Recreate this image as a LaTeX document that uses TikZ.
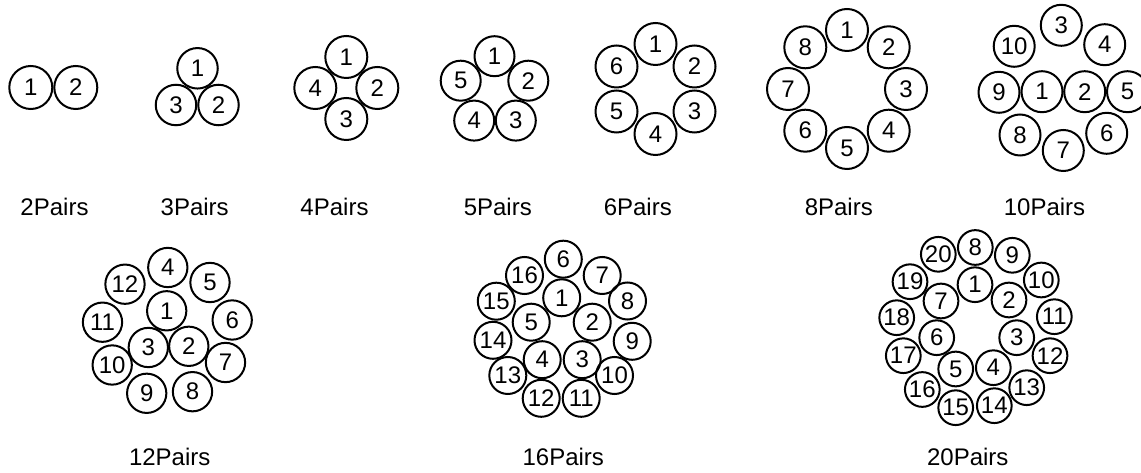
\documentclass[tikz,border=0pt]{standalone}
\usepackage{fontspec}
\setmainfont{Liberation Sans}
\tikzset{
  pr/.style={circle,draw,line width=1.5pt,inner sep=0pt,minimum size=#1*0.75pt,
    font=\fontsize{18pt}{20pt}\selectfont},
  lab/.style={anchor=base,inner sep=0pt,font=\fontsize{18pt}{20pt}\selectfont}
}
\begin{document}
\begin{tikzpicture}[x=0.75pt,y=-0.75pt]
\useasboundingbox (0,0) rectangle (1141,473);
\clip (0,0) rectangle (1141,473);
% 2 pairs
\node[pr=43] (a1) at (30.8,87.5) {1};
\node[pr=43] (a2) at (75.8,87.5) {2};
% 3 pairs
\node[pr=40.5] (b1) at (197.5,68.3) {1};
\node[pr=40.5] (b2) at (218.5,105) {2};
\node[pr=40.5] (b3) at (176,105) {3};
% 4 pairs
\node[pr=42] (c1) at (346.3,57) {1};
\node[pr=42] (c2) at (377.3,88) {2};
\node[pr=42] (c3) at (346.3,119) {3};
\node[pr=42] (c4) at (315.3,88) {4};
% 5 pairs
\node[pr=40] (d1) at (494.5,56.2) {1};
\node[pr=40] (d2) at (528.3,80.7) {2};
\node[pr=40] (d3) at (515.8,120.6) {3};
\node[pr=40] (d4) at (474.2,120.6) {4};
\node[pr=40] (d5) at (460.7,80.7) {5};
% 6 pairs
\node[pr=42] (e1) at (655.5,44) {1};
\node[pr=42] (e2) at (694.5,66.5) {2};
\node[pr=42] (e3) at (694.5,111.5) {3};
\node[pr=42] (e4) at (655.5,134) {4};
\node[pr=42] (e5) at (616.5,111.5) {5};
\node[pr=42] (e6) at (616.5,66.5) {6};
% 8 pairs
\node[pr=42] (f1) at (847,30) {1};
\node[pr=42] (f2) at (888.7,47.3) {2};
\node[pr=42] (f3) at (906,89) {3};
\node[pr=42] (f4) at (888.7,130.7) {4};
\node[pr=42] (f5) at (847,148) {5};
\node[pr=42] (f6) at (805.3,130.7) {6};
\node[pr=42] (f7) at (788,89) {7};
\node[pr=42] (f8) at (805.3,47.3) {8};
% 10 pairs
\node[pr=41] (g1) at (1042,91.7) {1};
\node[pr=41] (g2) at (1084.7,91.7) {2};
\node[pr=41] (g3) at (1061.3,25.3) {3};
\node[pr=41] (g4) at (1104.7,44.7) {4};
\node[pr=41] (g5) at (1127.5,91.7) {5};
\node[pr=41] (g6) at (1106.7,133.3) {6};
\node[pr=41] (g7) at (1063.3,150.5) {7};
\node[pr=41] (g8) at (1020,135) {8};
\node[pr=41] (g9) at (999,92.3) {9};
\node[pr=41] (g10) at (1014.2,46.3) {10};
% 12 pairs
\node[pr=39.3] (h1) at (166.7,310.8) {1};
\node[pr=39.3] (h2) at (188.8,346.3) {2};
\node[pr=39.3] (h3) at (148.3,347.5) {3};
\node[pr=39.3] (h4) at (167.8,267.5) {4};
\node[pr=39.3] (h5) at (210,282.5) {5};
\node[pr=39.3] (h6) at (232.2,320) {6};
\node[pr=39.3] (h7) at (225.5,362.5) {7};
\node[pr=39.3] (h8) at (192.5,391.7) {8};
\node[pr=39.3] (h9) at (146.7,393.3) {9};
\node[pr=39.3] (h10) at (112.2,365) {10};
\node[pr=39.3] (h11) at (102.5,322.2) {11};
\node[pr=39.3] (h12) at (125,284.2) {12};
% 16 pairs
\node[pr=37] (i1) at (561.7,297.8) {1};
\node[pr=37] (i2) at (592.2,322.2) {2};
\node[pr=37] (i3) at (582.2,359.7) {3};
\node[pr=37] (i4) at (542.2,359.7) {4};
\node[pr=37] (i5) at (531.2,322.2) {5};
\node[pr=37] (i6) at (563.3,259.2) {6};
\node[pr=37] (i7) at (602.2,275.5) {7};
\node[pr=37] (i8) at (627.5,301) {8};
\node[pr=37] (i9) at (632.2,341.3) {9};
\node[pr=37] (i10) at (614.5,375.5) {10};
\node[pr=37] (i11) at (581.2,398.3) {11};
\node[pr=37] (i12) at (541.2,398.3) {12};
\node[pr=37] (i13) at (507.8,375.5) {13};
\node[pr=37] (i14) at (493,340.3) {14};
\node[pr=37] (i15) at (496.3,301.2) {15};
\node[pr=37] (i16) at (524.5,275.5) {16};
% 20 pairs
\node[pr=34.7] (j1) at (975,284.7) {1};
\node[pr=34.7] (j2) at (1009,300) {2};
\node[pr=34.7] (j3) at (1016.7,337.7) {3};
\node[pr=34.7] (j4) at (993.3,367.7) {4};
\node[pr=34.7] (j5) at (955.7,369) {5};
\node[pr=34.7] (j6) at (936.7,337.7) {6};
\node[pr=34.7] (j7) at (941,301) {7};
\node[pr=34.7] (j8) at (975.3,247.5) {8};
\node[pr=34.7] (j9) at (1012.3,255.3) {9};
\node[pr=34.7] (j10) at (1041.3,280) {10};
\node[pr=34.7] (j11) at (1054.3,316.7) {11};
\node[pr=34.7] (j12) at (1050,355.7) {12};
\node[pr=34.7] (j13) at (1026.7,387.7) {13};
\node[pr=34.7] (j14) at (994.3,405.7) {14};
\node[pr=34.7] (j15) at (955.7,407.7) {15};
\node[pr=34.7] (j16) at (922.3,389.5) {16};
\node[pr=34.7] (j17) at (903.3,355.7) {17};
\node[pr=34.7] (j18) at (896.7,317.7) {18};
\node[pr=34.7] (j19) at (910,281.7) {19};
\node[pr=34.7] (j20) at (938.3,254.3) {20};
% labels
\node[lab] (la) at (54.5,216) {2Pairs};
\node[lab] (lb) at (194.7,216) {3Pairs};
\node[lab] (lc) at (334.5,216) {4Pairs};
\node[lab] (ld) at (497.8,216) {5Pairs};
\node[lab] (le) at (637.8,216) {6Pairs};
\node[lab] (lf) at (838.8,216) {8Pairs};
\node[lab] (lg) at (1044.5,216) {10Pairs};
\node[lab] (lh) at (169.7,465) {12Pairs};
\node[lab] (li) at (563.3,465) {16Pairs};
\node[lab] (lj) at (967.8,465) {20Pairs};
\end{tikzpicture}
\end{document}
